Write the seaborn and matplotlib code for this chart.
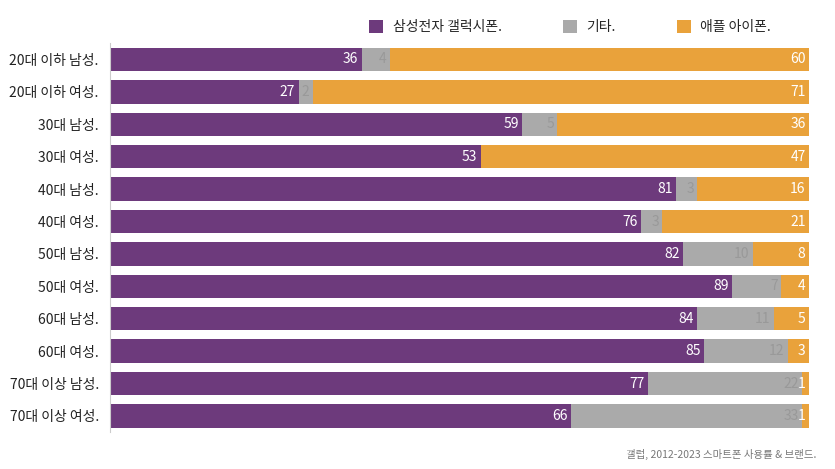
import matplotlib
matplotlib.use("Agg")
import matplotlib.pyplot as plt
import seaborn as sns
import numpy as np
import pandas as pd
from matplotlib.patches import Patch

categories = ["20대 이하 남성.", "20대 이하 여성.", "30대 남성.", "30대 여성.",
              "40대 남성.", "40대 여성.", "50대 남성.", "50대 여성.",
              "60대 남성.", "60대 여성.", "70대 이상 남성.", "70대 이상 여성."]
samsung = [36, 27, 59, 53, 81, 76, 82, 89, 84, 85, 77, 66]
other = [4, 2, 5, 0, 3, 3, 10, 7, 11, 12, 22, 33]
apple = [60, 71, 36, 47, 16, 21, 8, 4, 5, 3, 1, 1]
series_names = ["삼성전자 갤럭시폰.", "기타.", "애플 아이폰."]
source_text = "갤럽, 2012-2023 스마트폰 사용률 & 브랜드."

PURPLE = "#6D3A7C"
GRAY = "#AAAAAA"
ORANGE = "#E9A23B"

sns.set_style("white")
plt.rcParams['font.family'] = ['Noto Sans CJK KR', 'DejaVu Sans']

df = pd.DataFrame({"cat": categories, "s": samsung, "o": other, "a": apple})
df["s_end"] = df["s"]
df["o_end"] = df["s"] + df["o"]
df["a_end"] = df["o_end"] + df["a"]

fig = plt.figure(figsize=(8.35, 4.69), dpi=100)
ax = fig.add_axes([0.1317, 0.0785, 0.8373, 0.8292])

for col, color in [("a_end", ORANGE), ("o_end", GRAY), ("s_end", PURPLE)]:
    sns.barplot(data=df, x=col, y="cat", orient="h", color=color,
                saturation=1, width=0.72, linewidth=0, ax=ax, order=categories)

ax.set_xlim(0, 100)
ax.set_ylim(len(categories) - 0.5, -0.5)
ax.set_xlabel("")
ax.set_ylabel("")
ax.set_xticks([])
for side in ["top", "right", "bottom"]:
    ax.spines[side].set_visible(False)
ax.spines["left"].set_color("#cccccc")
ax.spines["left"].set_linewidth(0.8)
ax.tick_params(axis="y", length=0, pad=8, labelsize=10, labelcolor="#222222")

pad = 0.5
for i in range(len(categories)):
    ax.text(df["s_end"][i] - pad, i, str(samsung[i]), ha="right", va="center",
            color="white", fontsize=10)
    if other[i] > 0:
        ax.text(df["o_end"][i] - pad, i, str(other[i]), ha="right", va="center",
                color="#999999", fontsize=10)
    ax.text(df["a_end"][i] - pad, i, str(apple[i]), ha="right", va="center",
            color="white", fontsize=10)

handles = [Patch(facecolor=c, edgecolor="none") for c in [PURPLE, GRAY, ORANGE]]
fig.legend(handles, series_names, loc="center left", bbox_to_anchor=(0.427, 0.942),
           ncol=3, frameon=False, fontsize=10, handlelength=1.0, handleheight=1.0,
           columnspacing=4.4, handletextpad=0.7)

fig.text(0.978, 0.03, source_text, ha="right", va="center", fontsize=7.5, color="#777777")

fig.savefig("out.png", dpi=100)
